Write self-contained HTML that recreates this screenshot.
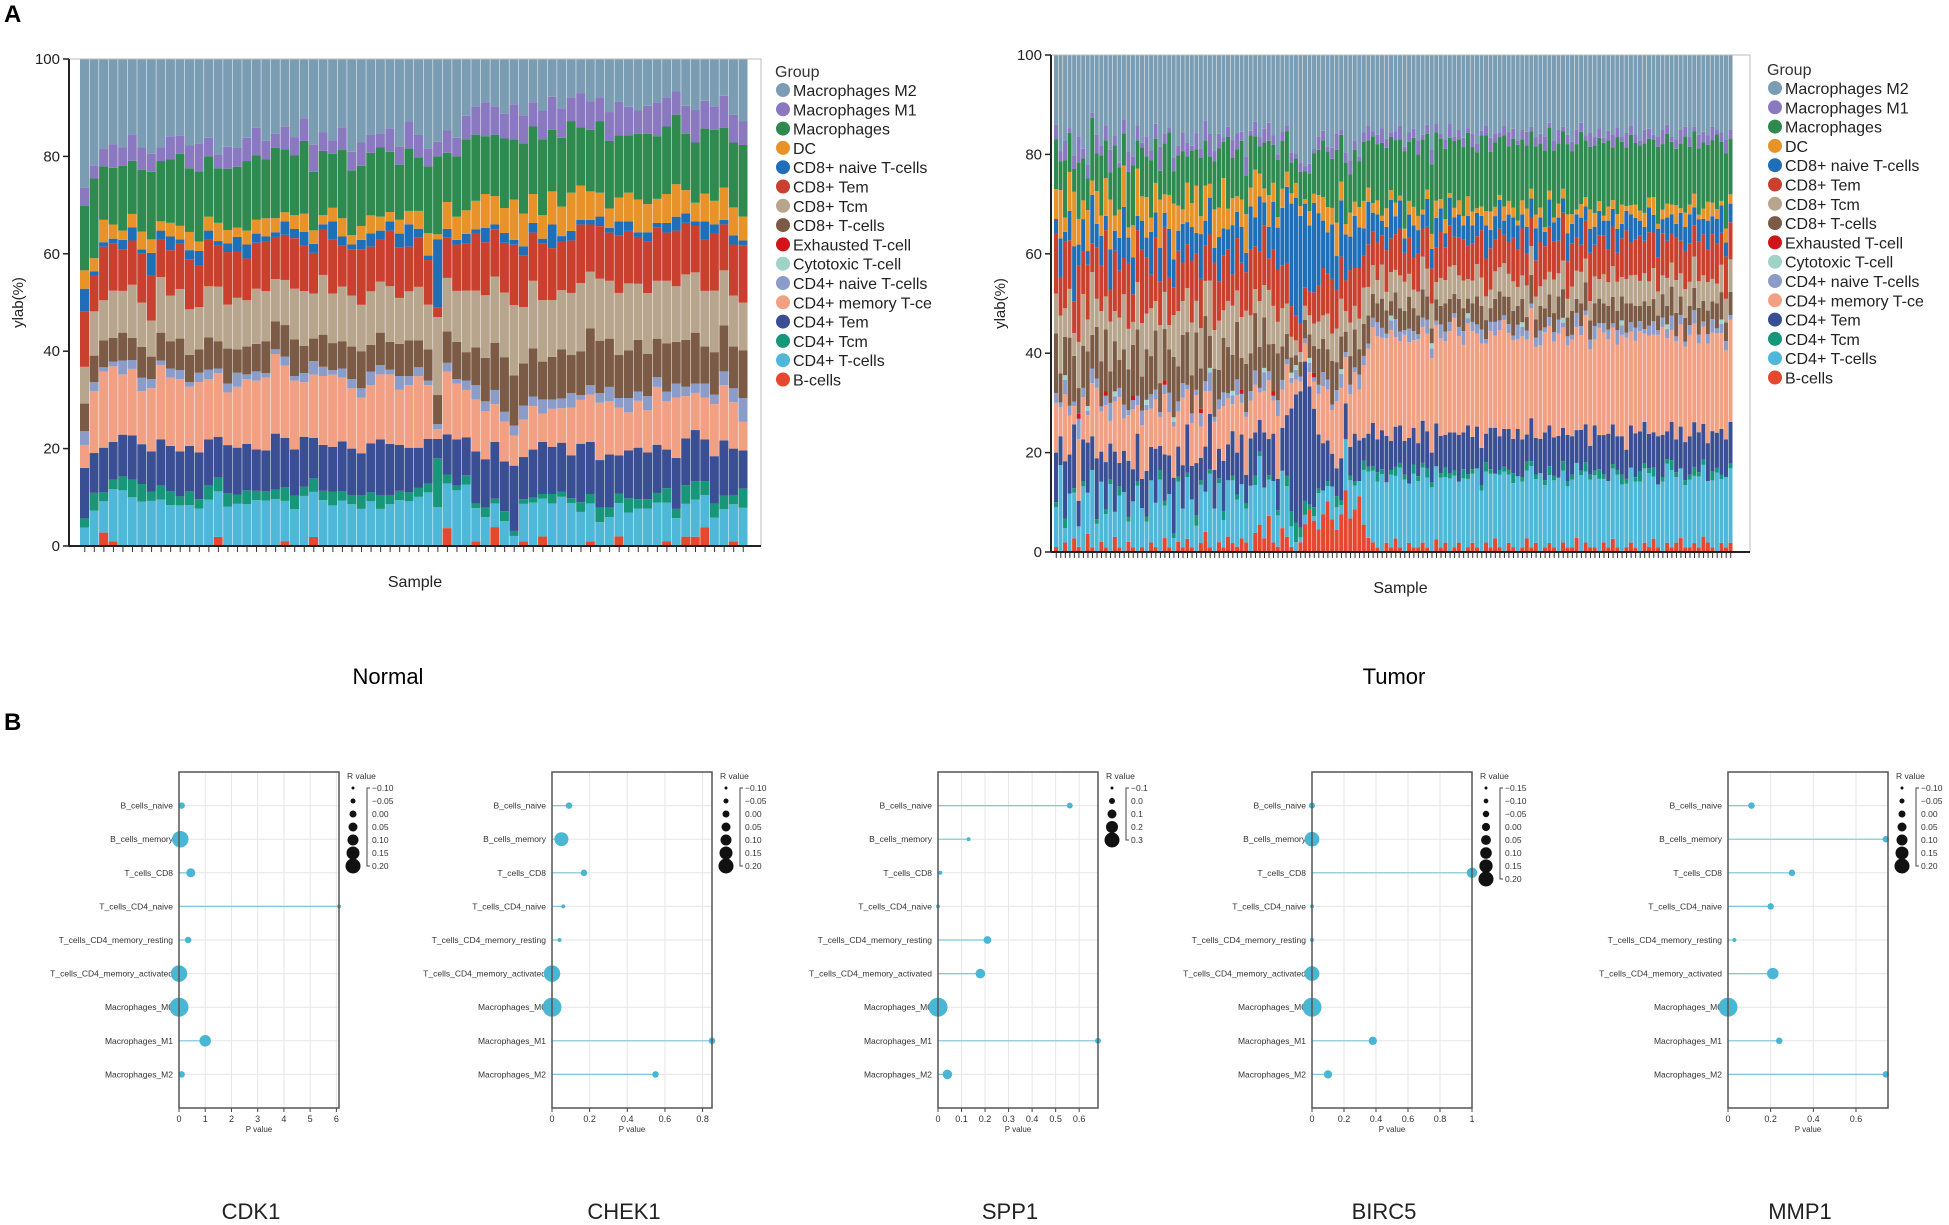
<!DOCTYPE html>
<html><head><meta charset="utf-8"><style>
html,body{margin:0;padding:0;background:#fff}
svg{display:block;font-family:"Liberation Sans",sans-serif}
</style></head><body>
<svg id="root" width="1949" height="1225" viewBox="0 0 1949 1225" xmlns="http://www.w3.org/2000/svg">
<text x="4" y="22" font-size="24" font-weight="bold">A</text>
<text x="4" y="730" font-size="24" font-weight="bold">B</text>
<text x="388" y="684" font-size="22" text-anchor="middle">Normal</text>
<text x="1394" y="684" font-size="22" text-anchor="middle">Tumor</text>
<g id="gN"></g>
<g id="gT"></g>
<g id="gB"></g>
</svg>
<script>
const groups=["B-cells","CD4+ T-cells","CD4+ Tcm","CD4+ Tem","CD4+ memory T-ce","CD4+ naive T-cells","Cytotoxic T-cell","Exhausted T-cell","CD8+ T-cells","CD8+ Tcm","CD8+ Tem","CD8+ naive T-cells","DC","Macrophages","Macrophages M1","Macrophages M2"];
const colors=["#e5482e","#4fb8d8","#17967a","#3a4f93","#f2a083","#8c9cc8","#9fd3c7","#d0141a","#7b5b45","#b8a58e","#c9412e","#1f6fb8","#e8922a","#2f8a4f","#8a78c0","#7b9db3"];
const z70=new Array(70).fill(0);
const nB=[0,0,3,1,0,0,0,0,0,0,0,0,0,0,2,0,0,0,0,0,0,1,0,0,2,0,0,0,0,0,0,0,0,0,0,0,0,0,4,0,0,1,0,4,0,0,1,0,2,0,0,0,0,1,0,0,2,0,0,0,0,1,0,2,2,4,0,0,1,0];
const nCD4T=[4,8,7,11,12,11,10,10,10,9,9,9,8,10,10,9,9,9,10,10,10,9,8,11,10,10,9,10,9,8,10,8,9,10,10,11,12,8,10,12,13,7,6,5,5,2,8,9,8,9,10,9,7,8,5,6,7,7,8,8,9,8,6,7,8,7,6,8,8,8];
const nTcm=[2,4,2,2,3,4,4,2,3,3,2,3,2,3,3,3,2,3,2,2,2,3,3,2,3,2,3,2,2,3,2,3,2,2,2,2,2,10,2,1,2,1,2,1,2,1,1,1,1,2,1,1,2,2,3,2,2,3,2,2,2,3,2,4,4,3,3,3,2,4];
const nTem=[11,9,10,8,9,10,9,9,10,10,10,10,10,10,9,11,10,10,9,9,12,11,10,11,9,10,10,11,10,9,11,12,11,10,10,9,10,4,9,10,8,11,10,12,10,13,9,10,11,10,10,9,12,11,10,11,8,10,11,10,10,8,11,10,11,9,10,12,10,8];
const nMem=[5,14,17,16,13,15,12,14,16,15,16,13,15,13,14,12,13,14,15,16,17,16,15,12,14,15,16,14,13,12,13,14,15,12,14,16,12,2,14,12,10,11,10,8,8,6,8,9,6,8,7,10,9,10,12,11,10,8,10,9,12,10,13,9,8,9,11,12,10,6];
const nNaive=[3,2,1,1,3,2,3,2,1,2,2,1,2,2,1,2,3,1,2,1,1,2,1,2,3,2,1,2,2,2,3,2,1,3,2,2,1,1,2,1,2,3,2,3,2,2,3,2,3,2,2,3,1,2,2,3,2,3,2,3,2,2,3,2,2,3,2,3,3,5];
const nCyto=z70, nExh=z70;
const nCD8T=[6,6,6,5,6,5,7,5,6,6,7,6,5,7,6,8,5,6,6,7,6,7,8,6,5,7,6,6,7,8,6,7,6,7,8,6,7,6,7,8,6,8,9,10,11,10,9,10,8,9,10,8,9,12,11,10,9,10,11,9,8,10,9,10,11,8,9,10,9,10];
const nCD8Tcm=[8,10,9,10,9,12,10,8,12,10,11,10,9,11,12,10,11,10,12,11,9,10,11,12,10,13,11,12,11,10,12,11,12,10,11,12,10,16,12,11,13,12,13,14,13,14,12,14,13,12,12,13,14,12,13,12,13,14,12,13,12,13,12,14,13,12,13,12,11,10];
const nCD8Tem=[12,8,12,10,9,10,11,10,8,10,10,11,9,10,9,12,10,9,10,11,9,10,11,10,9,10,12,9,10,12,10,9,12,11,10,11,10,2,9,10,10,12,11,10,10,12,11,10,12,11,10,11,12,10,11,10,12,11,10,11,11,10,12,11,10,11,12,10,11,12];
const nCD8N=[5,1,1,1,2,3,1,5,2,3,1,2,3,2,1,2,3,3,2,1,1,3,2,3,2,1,4,2,1,2,3,2,2,3,5,2,1,14,2,1,2,1,3,1,2,1,2,2,1,5,1,2,1,1,2,1,3,2,1,2,1,2,3,2,1,4,2,1,2,1];
const nDC=[4,3,5,3,2,3,4,3,2,3,3,4,2,3,4,3,2,3,3,4,3,2,3,4,3,2,3,4,2,3,4,3,2,3,3,4,5,1,6,5,5,6,7,6,5,8,7,6,5,7,6,8,7,6,5,4,5,6,7,6,5,6,7,5,4,6,5,7,6,5];
const nMac=[14,18,12,12,14,12,14,15,13,14,16,14,15,13,12,14,13,15,14,13,15,14,13,16,13,14,12,15,14,13,14,15,13,12,14,12,15,16,11,13,15,14,12,13,14,12,15,14,16,13,14,15,12,13,15,14,13,12,14,15,13,14,15,12,13,14,15,13,14,15];
const nM1=[4,3,4,5,4,6,5,4,3,5,4,5,6,4,3,5,4,5,6,4,3,5,4,5,6,4,3,5,4,5,4,3,5,4,6,5,4,3,5,4,5,6,7,6,5,7,6,5,6,7,6,5,7,6,5,6,7,6,5,6,7,6,5,6,7,6,5,7,6,5];
const nM2=[28,24,20,18,19,17,20,21,19,17,17,19,18,17,21,20,19,17,15,18,16,15,17,13,19,16,18,15,20,18,17,16,15,19,14,17,20,17,16,17,12,10,9,10,11,9,12,9,11,8,10,8,7,9,8,11,9,10,11,10,9,8,7,10,11,9,10,8,12,13];
const tB=[1,0,2,0,3,1,0,4,1,0,2,1,0,3,1,0,2,1,0,1,0,2,1,0,3,1,0,2,1,3,1,0,2,4,1,0,2,1,3,2,1,3,2,0,4,6,3,8,2,1,5,3,1,0,2,6,9,7,5,8,10,6,4,8,12,7,9,11,6,3,2,1,0,2,1,3,1,0,2,1,1,2,1,0,3,1,2,0,1,2,0,1,2,1,0,2,1,3,1,0,2,1,0,1,3,1,2,0,1,2,1,0,2,1,1,3,0,2,1,1,0,2,1,3,1,0,1,2,1,0,2,1,3,1,0,2,1,2,3,1,1,2,1,3,2,1,0,2,1,2];
const tCD4T=[8,18,3,12,10,4,14,9,16,6,12,7,15,5,11,13,4,10,14,8,6,13,9,15,7,11,3,12,8,14,10,5,13,8,16,9,12,6,11,14,9,12,7,14,10,15,11,8,13,6,12,10,4,2,1,2,0,1,8,5,3,6,4,2,10,8,5,3,12,14,15,14,16,13,15,14,17,15,13,16,14,16,15,13,17,15,14,16,15,13,16,14,15,17,13,15,16,14,15,17,15,13,16,14,15,17,14,16,13,15,14,16,15,13,14,16,17,15,14,16,15,13,14,16,15,14,13,16,15,14,16,15,14,13,15,17,16,14,15,13,14,15,16,14,13,15,16,14,15,16];
const tTcm=[1,0,2,0,1,0,1,0,0,1,0,1,1,0,2,0,1,0,1,0,1,0,0,2,1,0,1,1,0,1,0,2,1,0,1,0,1,2,0,1,1,0,1,0,2,1,0,1,0,1,0,2,3,4,2,3,1,2,1,0,1,0,2,1,0,1,1,0,2,1,1,2,1,0,1,2,1,1,0,2,1,1,2,1,0,1,2,1,1,0,2,1,1,0,1,2,1,0,1,1,1,2,0,1,2,1,1,0,1,2,1,0,2,1,1,0,1,2,1,1,2,1,0,1,1,2,1,0,1,2,1,1,2,0,1,1,2,1,0,1,1,2,1,1,0,2,1,1,0,1];
const tTem=[10,6,12,8,14,5,9,11,7,13,6,10,8,12,5,9,11,7,10,6,9,7,11,5,10,8,12,6,9,11,7,10,5,9,12,8,6,11,7,10,8,11,6,10,9,7,12,8,10,6,9,12,20,26,28,30,25,22,12,10,8,6,5,9,7,6,10,8,5,7,9,7,8,10,6,9,8,7,10,8,7,9,8,6,10,8,7,9,8,10,8,10,7,9,8,6,9,10,7,8,9,7,10,8,6,9,8,7,10,9,8,9,7,10,8,7,9,8,6,10,7,8,10,9,7,8,6,9,10,8,9,7,8,10,9,6,8,7,9,8,8,10,9,7,8,9,7,10,8,9];
const tMem=[10,6,14,8,4,12,9,6,11,15,8,12,5,10,14,7,9,13,6,11,12,8,10,6,13,9,11,7,14,8,9,13,7,11,5,10,8,12,9,6,11,7,12,8,10,6,9,13,7,12,8,10,5,3,2,4,3,6,9,12,10,8,12,15,9,11,13,10,16,18,20,22,19,21,23,20,18,22,21,19,22,20,21,19,23,21,20,22,24,21,19,21,23,20,22,19,21,20,22,23,21,20,19,22,21,23,20,19,21,22,20,22,21,19,20,22,21,23,20,19,22,21,20,22,19,21,23,20,21,20,19,20,22,21,23,20,19,21,22,20,21,22,20,19,21,22,20,21,19,22];
const tNaive=[2,1,3,2,1,4,2,1,3,2,1,2,4,1,2,3,1,2,2,3,1,3,2,1,2,4,1,2,3,1,2,1,3,2,4,1,2,3,1,2,3,2,1,2,3,1,4,2,1,3,2,1,1,2,1,1,2,1,2,3,2,1,2,3,1,2,1,3,2,1,2,3,2,1,2,4,2,1,3,2,1,2,3,2,1,3,2,2,1,2,3,1,2,2,3,1,2,3,2,1,2,1,3,2,2,1,2,3,1,2,2,3,1,2,1,3,2,1,2,3,1,2,2,1,3,2,1,2,3,2,1,2,3,1,2,2,3,1,2,1,2,3,2,1,2,3,1,2,2,1];
const tCyto=[0,0,1,0,0,0,0,1,0,0,0,0,0,1,0,0,0,0,0,0,1,0,0,0,0,0,1,0,0,0,0,0,0,0,1,0,0,0,0,1,0,0,0,0,0,0,1,0,0,0,0,0,1,1,0,0,1,0,0,0,0,0,0,1,0,0,0,0,0,0,0,0,0,0,1,0,0,0,0,0,0,0,0,1,0,0,0,0,0,0,0,1,0,0,0,0,0,0,0,0,0,0,0,1,0,0,0,0,0,0,0,0,1,0,0,0,0,0,0,0,0,0,0,0,0,1,0,0,0,0,0,0,0,0,0,1,0,0,0,0,0,0,0,0,0,0,0,1,0,0];
const tExh=[0,0,0,0,0,1,0,0,0,0,0,1,0,0,0,0,0,1,0,0,0,0,0,0,1,0,0,0,0,0,0,0,1,0,0,0,0,0,0,0,0,1,0,0,0,0,0,0,1,0,0,0,0,0,0,0,0,1,0,0,0,0,0,0,0,0,0,0,0,0,0,0,0,0,0,0,0,0,0,0,0,0,0,0,0,0,0,0,0,0,0,0,0,0,0,0,0,0,0,0,0,0,0,0,0,0,0,0,0,0,0,0,0,0,0,0,0,0,0,0,0,0,0,0,0,0,0,0,0,0,0,0,0,0,0,0,0,0,0,0,0,0,0,0,0,0,0,0,0,0];
const tCD8T=[12,6,8,14,10,5,9,12,7,11,9,13,7,10,6,12,8,11,14,7,10,8,12,6,11,9,13,7,10,12,8,11,9,13,7,10,6,12,9,8,11,7,10,8,12,9,11,6,10,9,7,5,3,2,3,4,5,6,8,7,6,8,5,7,4,6,8,5,7,6,5,4,6,5,3,6,5,4,7,5,4,6,5,3,5,4,6,5,4,6,5,3,4,6,5,4,3,5,6,4,6,5,4,5,3,6,4,5,4,5,4,5,6,4,5,3,5,6,4,5,5,4,5,6,4,5,6,4,5,3,6,4,5,3,5,4,6,5,4,5,4,5,6,4,5,4,5,6,4,5];
const tCD8Tcm=[8,12,6,10,5,9,11,7,13,6,10,7,11,6,9,12,8,5,10,11,7,10,6,12,8,5,9,11,7,10,11,6,9,7,12,8,10,6,9,11,6,9,11,8,5,10,7,12,8,6,8,6,4,3,2,3,4,5,6,5,7,5,6,8,4,7,5,6,8,6,6,5,7,4,6,5,7,6,5,4,5,7,6,5,4,6,5,7,6,5,6,4,5,7,6,5,4,6,5,7,5,6,4,5,7,6,5,4,6,5,7,5,6,4,5,6,7,5,4,6,4,6,5,7,6,4,5,6,7,5,6,5,7,5,4,6,5,7,5,6,5,7,6,5,6,5,4,6,5,7];
const tCD8Tem=[12,8,14,10,7,15,9,12,6,11,9,14,7,12,10,8,13,6,11,15,11,7,13,9,14,10,6,12,8,10,13,9,11,7,10,14,8,12,10,7,10,12,8,14,9,11,13,7,12,10,9,8,6,5,6,4,5,7,8,10,8,10,7,9,6,11,8,10,7,9,7,8,6,9,7,8,10,6,8,7,8,6,9,7,8,10,7,9,6,8,9,7,8,6,10,8,9,7,8,6,7,9,8,10,7,6,8,9,7,10,8,7,10,8,9,7,6,8,10,7,9,8,7,9,6,8,10,7,8,9,7,10,8,7,9,8,6,9,7,8,8,7,9,8,7,10,8,7,9,8];
const tCD8N=[3,8,2,6,12,4,7,3,10,5,6,3,9,4,7,11,5,8,3,6,4,9,5,7,3,10,6,4,8,5,7,4,10,5,8,3,9,6,4,11,5,8,4,9,6,12,5,7,10,8,12,15,20,24,22,18,14,20,16,10,8,10,6,12,9,7,11,8,6,9,4,6,3,5,8,4,6,3,5,7,5,3,6,4,7,5,3,6,4,5,3,6,4,5,3,7,4,5,6,3,6,4,5,3,6,4,7,5,3,6,4,5,3,6,4,5,6,3,5,4,5,3,6,4,5,3,4,6,5,3,3,5,4,6,3,5,4,3,6,5,6,4,5,3,6,4,5,6,3,4];
const tDC=[6,10,3,8,12,5,4,9,3,7,4,8,11,3,6,9,2,7,10,5,8,3,6,10,4,7,12,5,3,9,5,9,4,7,3,8,6,11,4,6,3,6,8,4,10,5,3,7,4,2,4,3,2,3,2,1,3,2,4,5,5,3,6,4,2,5,3,4,6,3,2,3,1,4,2,3,1,2,3,4,3,1,2,3,4,2,3,1,2,3,2,4,3,1,2,3,4,2,1,3,3,2,1,3,4,2,3,2,1,2,1,3,2,4,2,1,3,2,4,3,2,1,3,2,3,4,1,2,3,2,3,2,4,1,2,3,2,4,1,3,2,3,1,2,4,3,2,1,3,2];
const tMac=[10,6,12,8,5,11,9,7,13,8,12,8,6,14,9,7,11,13,6,10,8,12,9,6,11,13,7,10,12,6,11,7,13,9,6,10,12,8,14,9,9,13,8,11,7,6,10,12,8,11,10,8,6,5,7,6,8,9,10,12,11,9,13,10,12,8,11,9,13,10,14,12,15,13,11,14,12,16,13,15,13,15,12,14,16,13,15,12,14,13,15,13,14,12,15,16,13,14,12,15,12,14,16,13,14,12,15,13,16,14,14,13,12,15,13,14,16,12,13,15,13,15,14,12,16,13,12,15,14,13,15,12,13,16,14,15,13,12,14,16,12,14,15,13,12,14,15,13,16,12];
const tM1=[3,2,4,1,3,5,2,3,1,4,2,3,5,2,1,3,4,2,3,1,4,2,3,5,2,1,3,2,4,3,1,3,2,4,5,2,3,1,2,4,3,2,4,1,3,2,3,4,2,1,2,1,2,1,2,1,2,1,3,2,1,2,3,1,2,3,2,1,2,3,1,2,3,2,1,2,3,1,2,2,3,1,2,3,2,1,2,3,1,2,2,1,3,2,1,2,3,2,1,2,3,2,1,2,3,1,2,2,3,1,2,3,1,2,2,3,2,1,3,2,2,1,2,3,2,1,3,2,2,1,3,2,1,2,3,2,1,2,3,2,2,1,3,2,2,3,1,2,3,2];
const tM2=[14,20,18,15,22,16,20,24,12,17,18,15,21,16,23,14,19,22,15,18,16,20,14,19,17,15,22,18,16,20,19,15,21,13,17,20,16,18,14,19,15,17,21,16,14,18,16,15,17,19,16,14,19,20,22,24,23,21,18,16,18,17,14,16,19,22,18,20,17,15,16,17,15,18,16,17,15,19,17,16,18,17,15,19,16,17,18,15,17,16,18,15,17,19,16,15,18,17,16,15,17,15,18,16,17,15,18,16,17,15,18,16,15,17,18,16,15,17,16,18,15,17,16,18,15,17,16,15,18,17,16,15,18,17,16,15,17,18,16,15,17,16,18,15,17,16,15,17,18,16];
const normalSeries=[nB,nCD4T,nTcm,nTem,nMem,nNaive,nCyto,nExh,nCD8T,nCD8Tcm,nCD8Tem,nCD8N,nDC,nMac,nM1,nM2];
const tumorSeries=[tB,tCD4T,tTcm,tTem,tMem,tNaive,tCyto,tExh,tCD8T,tCD8Tcm,tCD8Tem,tCD8N,tDC,tMac,tM1,tM2];
const yTicks=[0,20,40,60,80,100];

const cellTypes=["B_cells_naive","B_cells_memory","T_cells_CD8","T_cells_CD4_naive","T_cells_CD4_memory_resting","T_cells_CD4_memory_activated","Macrophages_M0","Macrophages_M1","Macrophages_M2"];
const genes=["CDK1","CHEK1","SPP1","BIRC5","MMP1"];
const pCDK1=[0.1,0.05,0.45,6.1,0.35,0,0,1.0,0.1];
const pCHEK1=[0.09,0.05,0.17,0.06,0.04,0,0,0.85,0.55];
const pSPP1=[0.56,0.13,0.01,0,0.21,0.18,0,0.68,0.04];
const pBIRC5=[0,0,1.0,0,0,0,0,0.38,0.1];
const pMMP1=[0.11,0.74,0.3,0.2,0.03,0.21,0,0.24,0.74];
const rCDK1=[-0.05,0.15,0.0,-0.1,-0.05,0.15,0.2,0.05,-0.05];
const rCHEK1=[-0.05,0.1,-0.05,-0.1,-0.1,0.15,0.2,-0.05,-0.05];
const rSPP1=[-0.05,-0.1,-0.1,-0.1,0.0,0.05,0.3,-0.05,0.05];
const rBIRC5=[-0.1,0.1,0.0,-0.15,-0.15,0.1,0.2,-0.05,-0.05];
const rMMP1=[-0.05,-0.05,-0.05,-0.05,-0.1,0.05,0.2,-0.05,-0.05];
const xMax=[6.1,0.85,0.68,1.0,0.75];
const xTicksCDK1=[0,1,2,3,4,5,6];
const xTicksCHEK1=[0,0.2,0.4,0.6,0.8];
const xTicksSPP1=[0,0.1,0.2,0.3,0.4,0.5,0.6];
const xTicksBIRC5=[0,0.2,0.4,0.6,0.8,1.0];
const xTicksMMP1=[0,0.2,0.4,0.6];
const legCDK1=["−0.10","−0.05","0.00","0.05","0.10","0.15","0.20"];
const legCHEK1=["−0.10","−0.05","0.00","0.05","0.10","0.15","0.20"];
const legSPP1=["−0.1","0.0","0.1","0.2","0.3"];
const legBIRC5=["−0.15","−0.10","−0.05","0.00","0.05","0.10","0.15","0.20"];
const legMMP1=["−0.10","−0.05","0.00","0.05","0.10","0.15","0.20"];

const NS="http://www.w3.org/2000/svg";
function mk(parent,tag,attrs,txt){const e=document.createElementNS(NS,tag);for(const k in attrs)e.setAttribute(k,attrs[k]);if(txt!==undefined)e.textContent=txt;parent.appendChild(e);return e;}

function stacked(g,series,cfg){
  const n=series[0].length;
  const yS=v=>cfg.y0-(v/100)*(cfg.y0-cfg.y1);
  const bw=(cfg.bx1-cfg.bx0)/n;
  const xS=i=>cfg.bx0+i*bw;
  for(let i=0;i<n;i++){
    let tot=0;series.forEach(s=>tot+=s[i]);
    let acc=0;
    series.forEach((s,k)=>{
      const v=s[i]/tot*100;if(v<=0)return;
      const r=mk(g,'rect',{x:xS(i),y:yS(acc+v),width:bw-0.5,height:yS(acc)-yS(acc+v),fill:colors[k]});
      
      
      acc+=v;
    });
    const t=mk(g,'line',{x1:xS(i)+bw/2,x2:xS(i)+bw/2,y1:cfg.y0,y2:cfg.y0+6,stroke:'#333','stroke-width':1});
    
    
  }
  const fr=mk(g,'rect',{x:cfg.x0,y:cfg.y1,width:cfg.x1-cfg.x0,height:cfg.y0-cfg.y1,fill:'none',stroke:'#bbb','stroke-width':1});
  
  
  const ax=mk(g,'line',{x1:cfg.x0,x2:cfg.x0,y1:cfg.y1,y2:cfg.y0,stroke:'#222','stroke-width':2});
  
  
  const bx=mk(g,'line',{x1:cfg.x0,x2:cfg.x1,y1:cfg.y0,y2:cfg.y0,stroke:'#222','stroke-width':2});
  
  
  yTicks.forEach(v=>{
    const l=mk(g,'line',{x1:cfg.x0-6,x2:cfg.x0,y1:yS(v),y2:yS(v),stroke:'#222','stroke-width':1.5});
    
    
    const t=mk(g,'text',{x:cfg.x0-9,y:yS(v)+5,'font-size':15,'text-anchor':'end',fill:'#222'},v);
    
    
  });
  const yl=mk(g,'text',{x:0,y:0,'font-size':15,'text-anchor':'middle',fill:'#222',transform:`translate(${cfg.x0-46},${(cfg.y0+cfg.y1)/2}) rotate(-90)`},'ylab(%)');
  
  
  const xl=mk(g,'text',{x:(cfg.x0+cfg.x1)/2,y:cfg.y0+41,'font-size':16,'text-anchor':'middle',fill:'#222'},'Sample');
  
  
  const lg=mk(g,'g',{});
  
  
  const gt=mk(lg,'text',{x:cfg.lx-8,y:cfg.ly-13,'font-size':16,fill:'#333'},'Group');
  
  
  for(let k=15;k>=0;k--){
    const j=15-k, y=cfg.ly+j*19.3;
    const c=mk(lg,'circle',{cx:cfg.lx,cy:y,r:7,fill:colors[k]});
    
    
    const t=mk(lg,'text',{x:cfg.lx+10,y:y+6,'font-size':16,fill:'#222'},groups[k]);
    
    
  }
}
stacked(document.getElementById('gN'),normalSeries,{x0:69,x1:761,y0:546,y1:59,bx0:80,bx1:748,lx:783,ly:90});
stacked(document.getElementById('gT'),tumorSeries,{x0:1051,x1:1750,y0:552,y1:55,bx0:1054,bx1:1733,lx:1775,ly:88});

function lolli(g,idx,left,P,R,ticks,leg){
  const W=160,top=772,bot=1108,rh=33.6;
  const xS=v=>left+v/xMax[idx]*W;
  const yS=i=>top+(i+1)*rh;
  const rmin=parseFloat(leg[0].replace('−','-')),rmax=parseFloat(leg[leg.length-1]);
  const rad=v=>2+Math.max(0,(v-rmin)/(rmax-rmin))*7.5;
  const pg=mk(g,'g',{});
  
  
  ticks.forEach(t=>{
    const l=mk(pg,'line',{x1:xS(t),x2:xS(t),y1:top,y2:bot,stroke:'#e6e6e6','stroke-width':1});
    
    
    const tk=mk(pg,'line',{x1:xS(t),x2:xS(t),y1:bot,y2:bot+4,stroke:'#444','stroke-width':1});
    
    
    const tl=mk(pg,'text',{x:xS(t),y:bot+14,'font-size':9,'text-anchor':'middle',fill:'#333'},String(t));
    
    
  });
  cellTypes.forEach((c,i)=>{
    const gl=mk(pg,'line',{x1:left,x2:left+W,y1:yS(i),y2:yS(i),stroke:'#e6e6e6','stroke-width':1});
    
    
    const tl=mk(pg,'text',{x:left-6,y:yS(i)+3,'font-size':8.5,'text-anchor':'end',fill:'#333'},c);
    
    
    const st=mk(pg,'line',{x1:left,x2:xS(P[i]),y1:yS(i),y2:yS(i),stroke:'#7cc5dc','stroke-width':1.2});
    
    
    const d=mk(pg,'circle',{cx:xS(P[i]),cy:yS(i),r:rad(R[i]),fill:'#49b6d3'});
    
    
  });
  const fr=mk(pg,'rect',{x:left,y:top,width:W,height:bot-top,fill:'none',stroke:'#555','stroke-width':1.5});
  
  
  const xt=mk(pg,'text',{x:left+W/2,y:bot+24,'font-size':8,'text-anchor':'middle',fill:'#333'},'P value');
  
  
  const lx=left+173;
  const lt=mk(pg,'text',{x:lx-5,y:top+7,'font-size':8.5,fill:'#333'},'R value');
  
  
  const br=mk(pg,'path',{d:`M${lx+18} ${top+16} h-3 v${(leg.length-1)*13} h3`,fill:'none',stroke:'#444','stroke-width':1});
  
  
  leg.forEach((s,k)=>{
    const y=top+16+k*13;
    const c=mk(pg,'circle',{cx:lx+1,cy:y,r:1.5+k*(6/(leg.length-1)),fill:'#111'});
    
    
    const t=mk(pg,'text',{x:lx+20,y:y+3,'font-size':8.5,fill:'#333'},s);
    
    
  });
  const gtitle=mk(pg,'text',{x:left+W/2-8,y:1219,'font-size':22,'text-anchor':'middle',fill:'#222'},genes[idx]);
  
  
}
const gB=document.getElementById('gB');
lolli(gB,0,179,pCDK1,rCDK1,xTicksCDK1,legCDK1);
lolli(gB,1,552,pCHEK1,rCHEK1,xTicksCHEK1,legCHEK1);
lolli(gB,2,938,pSPP1,rSPP1,xTicksSPP1,legSPP1);
lolli(gB,3,1312,pBIRC5,rBIRC5,xTicksBIRC5,legBIRC5);
lolli(gB,4,1728,pMMP1,rMMP1,xTicksMMP1,legMMP1);
</script>
</body></html>
